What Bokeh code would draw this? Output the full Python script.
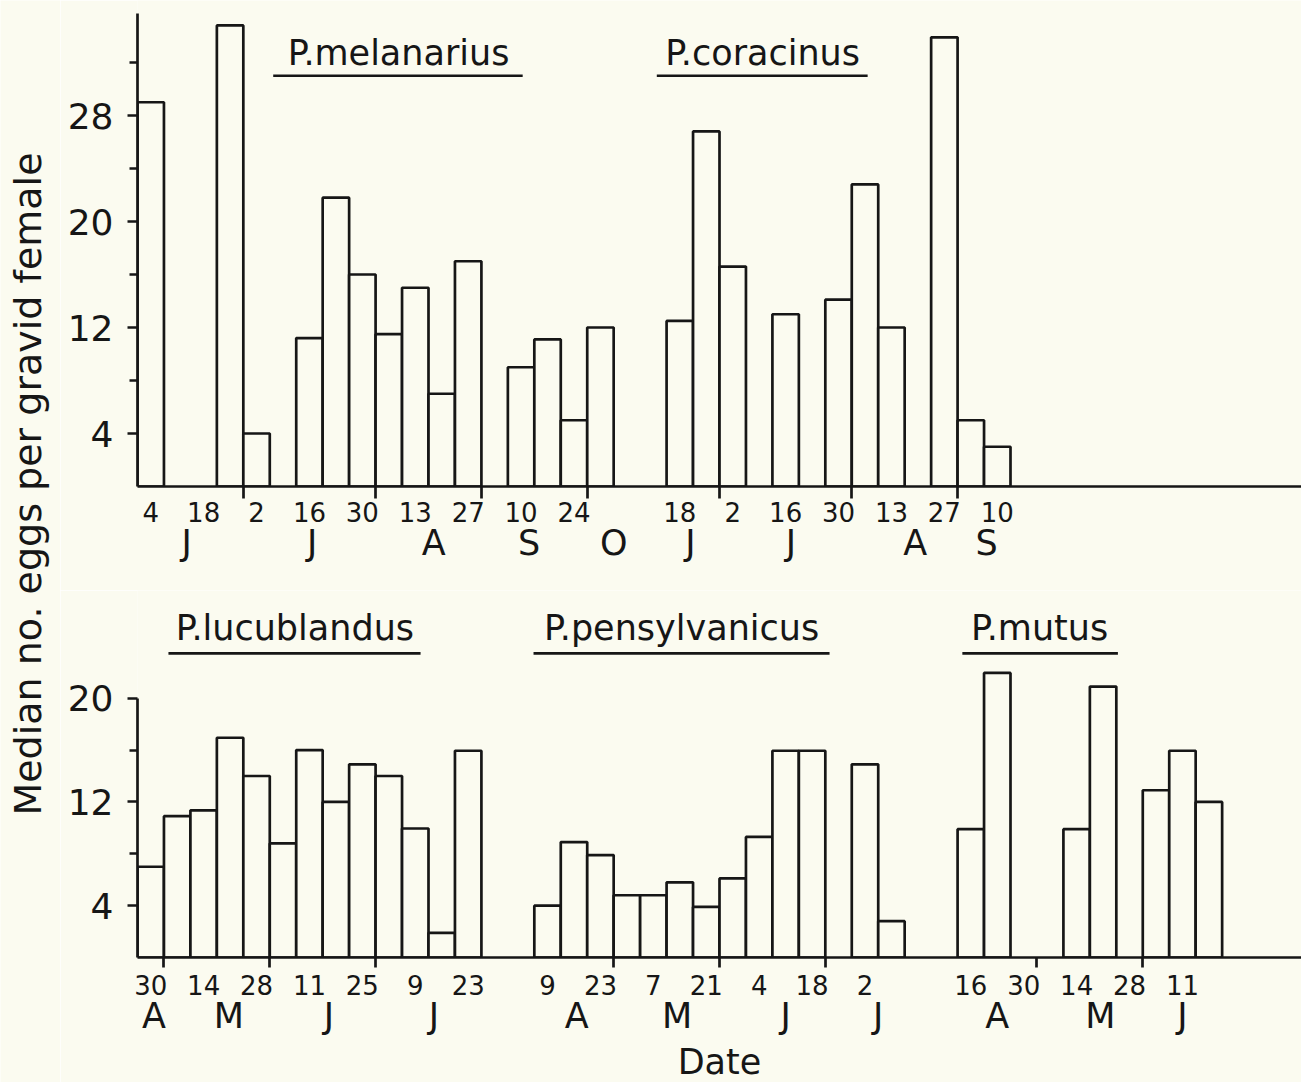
import math
from bokeh.plotting import figure
from bokeh.models import LinearAxis, FixedTicker, Range1d, Title
from bokeh.layouts import row, column
from bokeh.core.properties import value
from bokeh.embed import file_html
from bokeh.resources import INLINE

# ---------------- data (weekly medians; None = no sample) ----------------
mel_vals = [29.0, None, None, 34.8, 4.0, None, 11.2, 21.8, 16.0, 11.5, 15.0, 7.0, 17.0, None, 9.0, 11.1, 5.0, 12.0]
mel_days = ["4", "18", "2", "16", "30", "13", "27", "10", "24"]
cor_vals = [12.5, 26.8, 16.6, None, 13.0, None, 14.1, 22.8, 12.0, None, 33.9, 5.0, 3.0]
cor_days = ["18", "2", "16", "30", "13", "27", "10"]

luc_vals = [7.0, 10.9, 11.35, 16.95, 14.0, 8.8, 16.0, 12.0, 14.9, 14.0, 9.95, 1.9, 15.95]
luc_days = ["30", "14", "28", "11", "25", "9", "23"]
pen_vals = [4.0, 8.9, 7.9, 4.8, 4.8, 5.8, 3.9, 6.1, 9.3, 15.95, 15.95, None, 14.9, 2.8]
pen_days = ["9", "23", "7", "21", "4", "18", "2"]
mut_vals = [9.9, 21.95, None, None, 9.9, 20.9, None, 12.9, 15.95, 12.0]
mut_days = ["16", "30", "14", "28", "11"]

top_months = ["J", "J", "A", "S", "O", "J", "J", "A", "S"]
top_month_pos = [1.86, 6.6, 11.2, 14.8, 18.0, 20.9, 24.7, 29.4, 32.1]
bot_months = ["A", "M", "J", "J", "A", "M", "J", "J", "A", "M", "J"]
bot_month_pos = [0.62, 3.45, 7.24, 11.2, 16.6, 20.4, 24.5, 28.0, 32.5, 36.4, 39.5]

top_bounds = [4, 9, 13, 17, 22, 27, 31]
bot_bounds = [1, 5, 9, 18, 22, 26, 34, 38]

top_yticks, top_yminor = [4, 12, 20, 28], [8, 16, 24, 32]
bot_yticks, bot_yminor = [4, 12, 20], [8, 16]

# ---------------- style ----------------
BG = "#fbfbf0"
INK = "#161616"
FONT = "DejaVu Sans"
LW = 2.7


def bars(p, vals, offset):
    xs = [offset + i + 0.5 for i, v in enumerate(vals) if v is not None]
    tops = [v for v in vals if v is not None]
    p.vbar(x=xs, width=1, top=tops, bottom=0, fill_color=BG,
           line_color=INK, line_width=LW)


def day_ticks(groups):
    pos, lab = [], []
    for offset, days in groups:
        for i, d in enumerate(days):
            pos.append(offset + 2 * i + 0.5)
            lab.append(d)
    return pos, lab


def panel(height, yend, border_bottom, yticks, yminor, ytop, groups, bounds,
          mpos, mlab, day_standoff, month_standoff, tick_len):
    p = figure(width=1241, height=height, x_range=Range1d(0, 44.0),
               y_range=Range1d(0, yend), x_axis_location=None,
               y_axis_location=None, toolbar_location=None,
               output_backend="svg", min_border_left=77, min_border_right=0,
               min_border_top=0, min_border_bottom=border_bottom,
               background_fill_color=BG, border_fill_color=BG,
               outline_line_color=None)
    p.grid.visible = False
    ya = LinearAxis(ticker=FixedTicker(ticks=yticks, minor_ticks=yminor),
                    bounds=(0, ytop), axis_line_width=LW, axis_line_color=INK,
                    major_tick_out=10, major_tick_in=0, minor_tick_out=8,
                    minor_tick_in=0, major_tick_line_width=LW,
                    minor_tick_line_width=LW, major_tick_line_color=INK,
                    minor_tick_line_color=INK, major_label_text_font=FONT,
                    major_label_text_font_size="36px",
                    major_label_text_color=INK, major_label_standoff=14)
    p.add_layout(ya, "left")
    pos, lab = day_ticks(groups)
    xa = LinearAxis(ticker=FixedTicker(ticks=pos, minor_ticks=bounds),
                    major_label_overrides=dict(zip(pos, lab)),
                    axis_line_width=LW, axis_line_color=INK,
                    major_tick_line_color=None, major_tick_out=0,
                    major_tick_in=0, minor_tick_out=tick_len, minor_tick_in=0,
                    minor_tick_line_width=LW, minor_tick_line_color=INK,
                    major_label_text_font=FONT,
                    major_label_text_font_size="26px",
                    major_label_text_color=INK,
                    major_label_standoff=day_standoff)
    p.add_layout(xa, "below")
    ma = LinearAxis(ticker=FixedTicker(ticks=mpos),
                    major_label_overrides=dict(zip(mpos, mlab)),
                    axis_line_color=None, major_tick_line_color=None,
                    major_tick_out=0, major_tick_in=0, minor_tick_out=0,
                    minor_tick_in=0, minor_tick_line_color=None,
                    major_label_text_font=FONT,
                    major_label_text_font_size="35px",
                    major_label_text_color=INK,
                    major_label_standoff=month_standoff)
    p.add_layout(ma, "below")
    return p


# ---------------- top panel ----------------
top = panel(590, 36.68, 104, top_yticks, top_yminor, 35.7,
            [(0, mel_days), (20, cor_days)], top_bounds, top_month_pos,
            top_months, 3, -2, 12)
bars(top, mel_vals, 0)
bars(top, cor_vals, 20)
top.text(x=[9.87, 23.63], y=[32.7, 32.7], text=["P.melanarius", "P.coracinus"],
         text_align="center", text_baseline="alphabetic",
         text_font=value(FONT), text_font_size="35px", text_color=INK)
top.segment(x0=[5.13, 19.63], y0=[31.0, 31.0], x1=[14.56, 27.6],
            y1=[31.0, 31.0], line_color=INK, line_width=LW)

# ---------------- bottom panel ----------------
bot = panel(492, 28.31, 124, bot_yticks, bot_yminor, 20,
            [(0, luc_days), (15, pen_days), (31, mut_days)], bot_bounds,
            bot_month_pos, bot_months, 7, -2, 10)
bars(bot, luc_vals, 0)
bars(bot, pen_vals, 15)
bars(bot, mut_vals, 31)
bot.text(x=[5.95, 20.57, 34.1], y=[25.4, 25.4, 25.4],
         text=["P.lucublandus", "P.pensylvanicus", "P.mutus"],
         text_align="center", text_baseline="alphabetic",
         text_font=value(FONT), text_font_size="35px", text_color=INK)
bot.segment(x0=[1.17, 14.97, 31.18], y0=[23.46] * 3, x1=[10.7, 26.16, 37.06],
            y1=[23.46] * 3, line_color=INK, line_width=LW)
bot.add_layout(Title(text="Date", align="center", offset=18,
                     text_font=FONT, text_font_size="35px",
                     text_font_style="normal", text_color=INK, standoff=2),
               "below")

# ---------------- y label ----------------
lf = figure(width=60, height=1082, x_range=Range1d(0, 1), y_range=Range1d(0, 1),
            x_axis_location=None, y_axis_location=None, toolbar_location=None,
            output_backend="svg", min_border=0, background_fill_color=BG,
            border_fill_color=BG, outline_line_color=None)
lf.grid.visible = False
lf.text(x=[0.45], y=[1 - 483.5 / 1082],
        text=["Median no. eggs per gravid female"], angle=math.pi / 2,
        text_align="center", text_baseline="middle", text_font=value(FONT),
        text_font_size="38px", text_color=INK)

layout = row(lf, column(top, bot))
open("out.html", "w").write(file_html(layout, INLINE))
